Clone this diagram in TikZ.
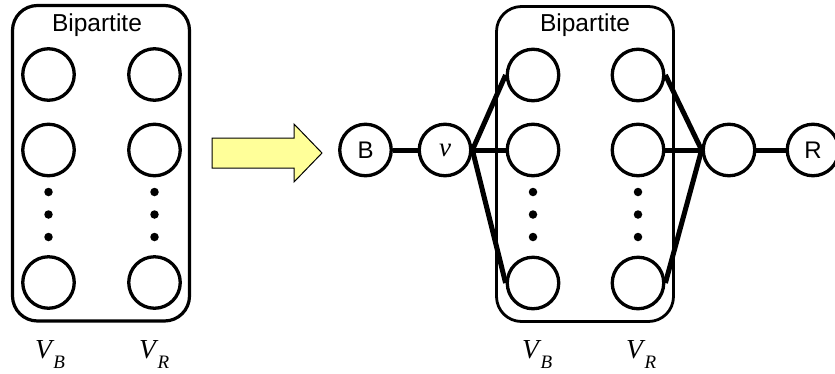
\documentclass[tikz,border=0pt]{standalone}
\usepackage{fontspec}
\setmainfont{Liberation Sans}
\newfontfamily\serifit[ItalicFont={Liberation Serif Italic}]{Liberation Serif}
\definecolor{arrowyellow}{HTML}{FFFF99}
\newcommand{\setname}[1]{{\serifit\itshape\fontsize{27.5}{27.5}\selectfont V\kern1.5pt\raisebox{-10pt}{\fontsize{19}{19}\selectfont #1}}}
\begin{document}
\begin{tikzpicture}[x=1pt,y=-1pt,
  vert/.style={circle,draw,line width=3.3pt,minimum size=51.5pt,inner sep=0pt,font=\fontsize{24}{24}\selectfont},
  dotnode/.style={circle,fill,minimum size=8.5pt,inner sep=0pt},
  frame/.style={draw,line width=3.2pt,rounded corners=25pt},
  edge/.style={line width=5pt},
  lbl/.style={font=\fontsize{24.5}{24.5}\selectfont},
  setlbl/.style={inner sep=0pt,anchor=base west}]
\useasboundingbox (0,0) rectangle (835,373);
% left box
\draw[frame] (12.5,5.5) rectangle (189.5,321);
\node[lbl] (bl) at (97,25) {Bipartite};
\foreach \c/\x in {a/48.5,b/154.5}{
  \node[vert] (L\c1) at (\x,74.5) {};
  \node[vert] (L\c2) at (\x,150) {};
  \node[vert] (L\c3) at (\x,282.5) {};
  \node[dotnode] (L\c d1) at (\x,192) {};
  \node[dotnode] (L\c d2) at (\x,214.5) {};
  \node[dotnode] (L\c d3) at (\x,237) {};
}
\node[setlbl] (lvb) at (35,358) {\setname{B}};
\node[setlbl] (lvr) at (139,358) {\setname{R}};
% arrow
\draw[fill=arrowyellow,line width=1pt] (212,138) -- (294,138) -- (294,124) -- (322,153) -- (294,182) -- (294,168) -- (212,168) -- cycle;
% right part
\draw[frame,line width=2.8pt] (496.5,6.5) rectangle (673.5,321.5);
\node[lbl] (br) at (585,25) {Bipartite};
\foreach \c/\x in {a/533,b/638}{
  \node[vert] (R\c1) at (\x,75) {};
  \node[vert] (R\c2) at (\x,150) {};
  \node[vert] (R\c3) at (\x,283) {};
  \node[dotnode] (R\c d1) at (\x,192) {};
  \node[dotnode] (R\c d2) at (\x,214.5) {};
  \node[dotnode] (R\c d3) at (\x,237) {};
}
\node[setlbl] (rvb) at (522,358) {\setname{B}};
\node[setlbl] (rvr) at (626,358) {\setname{R}};
\node[vert] (B) at (365.5,150) {B};
\node[vert] (v) at (445,150) {\serifit\itshape\fontsize{27}{27}\selectfont v};
\node[vert] (w) at (729,150) {};
\node[vert] (R) at (813,150) {R};
\draw[edge] (B) -- (v);
\draw[edge] (w) -- (R);
\foreach \i in {1,2,3}{
  \draw[edge] (v.east) -- (Ra\i.west);
  \draw[edge] (Rb\i.east) -- (w.west);
}
\end{tikzpicture}
\end{document}
